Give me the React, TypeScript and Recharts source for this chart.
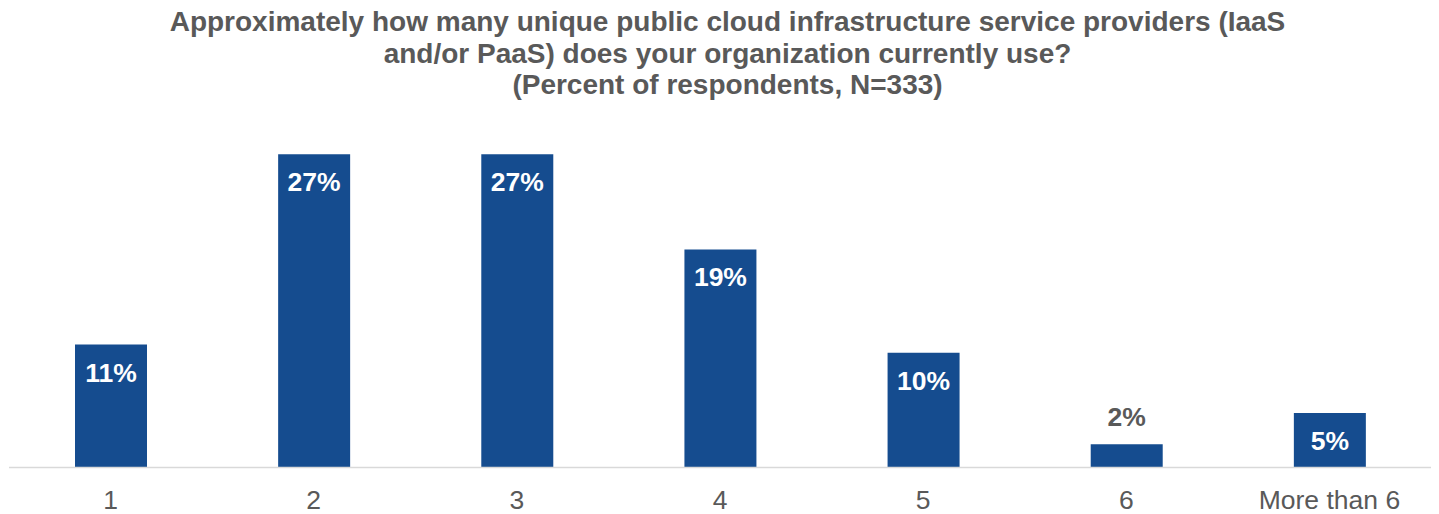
import React from "react";
import { BarChart, Bar, XAxis, YAxis, LabelList } from "recharts";

const categories = ["1", "2", "3", "4", "5", "6", "More than 6"];
const percentValues = [10.6, 27, 27, 18.8, 9.9, 2.0, 4.7];
const titleLines = [
  "Approximately how many unique public cloud infrastructure service providers (IaaS",
  "and/or PaaS) does your organization currently use?",
  "(Percent of respondents, N=333)",
];

const data = categories.map((c, i) => ({ name: c, value: percentValues[i] }));

const FONT = "'Liberation Sans', Arial, sans-serif";
const GRAY = "#595959";
const BLUE = "#154C8F";

const BarLabel = (props: any) => {
  const { x, y, width, height, value } = props;
  const cx = Number(x) + Number(width) / 2;
  const inside = Number(height) > 40;
  const ty = inside ? Number(y) + 28 : Number(y) - 27;
  return (
    <text
      x={cx}
      y={ty}
      textAnchor="middle"
      dominantBaseline="central"
      fill={inside ? "#ffffff" : GRAY}
      fontFamily={FONT}
      fontWeight="bold"
      fontSize={26.5}
    >
      {`${Math.round(Number(value))}%`}
    </text>
  );
};

const Tick = (props: any) => {
  const { x, y, payload } = props;
  return (
    <text
      x={x}
      y={Number(y)}
      dy={24}
      textAnchor="middle"
      dominantBaseline="central"
      fill={GRAY}
      fontFamily={FONT}
      fontSize={26.5}
    >
      {payload.value}
    </text>
  );
};

export default function App() {
  return (
    <div style={{ position: "absolute", left: 0, top: 0, width: 1439, height: 514, background: "#fff" }}>
      <div
        style={{
          position: "absolute",
          left: 16,
          top: 6,
          width: 1423,
          textAlign: "center",
          fontFamily: FONT,
          fontWeight: "bold",
          fontSize: 28,
          lineHeight: "31.5px",
          color: GRAY,
          whiteSpace: "nowrap",
        }}
      >
        {titleLines.map((l, i) => (
          <div key={i}>{l}</div>
        ))}
      </div>
      <div style={{ position: "absolute", left: 0, top: 0 }}>
        <BarChart
          width={1439}
          height={514}
          data={data}
          margin={{ top: 119.5, right: 8, bottom: 6.5, left: 9 }}
          barCategoryGap={0}
        >
          <YAxis hide domain={[0, 30]} />
          <XAxis
            dataKey="name"
            axisLine={{ stroke: "#d9d9d9", strokeWidth: 1.5 }}
            tickLine={false}
            height={40}
            tick={<Tick />}
            interval={0}
          />
          <Bar dataKey="value" fill={BLUE} barSize={72} isAnimationActive={false}>
            <LabelList dataKey="value" content={<BarLabel />} />
          </Bar>
        </BarChart>
      </div>
    </div>
  );
}
